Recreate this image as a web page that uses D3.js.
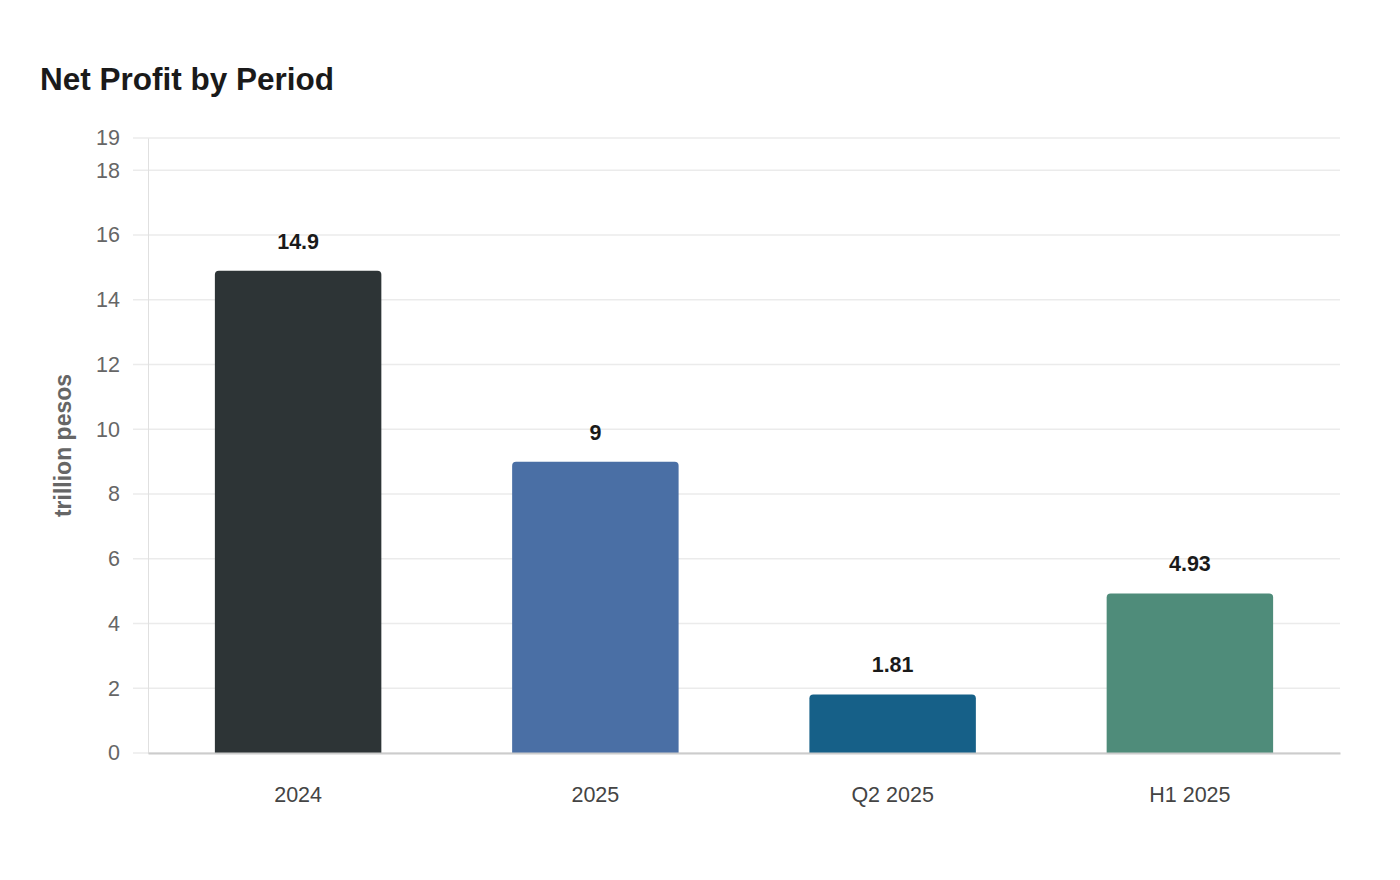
<!DOCTYPE html>
<html>
<head>
<meta charset="utf-8">
<script src="https://cdn.jsdelivr.net/npm/d3@7"></script>
<style>
  body { margin: 0; background: #fff; font-family: "Liberation Sans", Arial, sans-serif; }
</style>
</head>
<body>
<div id="chart"></div>
<script>
var periods = ["2024", "2025", "Q2 2025", "H1 2025"];
var profits = [14.9, 9, 1.81, 4.93];
var barColors = ["#2d3436", "#4a6fa5", "#166088", "#4f8c7a"];
var yTicks = [0, 2, 4, 6, 8, 10, 12, 14, 16, 18, 19];

var width = 1400, height = 880;
var margin = { top: 138, right: 60, bottom: 127, left: 148 };
var w = width - margin.left - margin.right,
    h = height - margin.top - margin.bottom;

var svg = d3.select("#chart").append("svg")
    .attr("width", width)
    .attr("height", height);

svg.append("text")
    .attr("x", 40)
    .attr("y", 90)
    .attr("font-size", 31.5)
    .attr("font-weight", "bold")
    .attr("fill", "#1a1a1a")
    .text("Net Profit by Period");

var g = svg.append("g").attr("transform", "translate(" + margin.left + "," + margin.top + ")");

var x = d3.scaleBand().domain(periods).range([0, w]).paddingInner(0.44).paddingOuter(0.225);
var y = d3.scaleLinear().domain([0, 19]).range([h, 0]);

// gridlines
g.selectAll(".grid").data(yTicks).enter().append("line")
    .attr("x1", -15).attr("x2", w)
    .attr("y1", function(d) { return y(d); })
    .attr("y2", function(d) { return y(d); })
    .attr("stroke", "#ebebeb")
    .attr("stroke-width", 1.5);

// y axis
var yAxis = g.append("g").call(d3.axisLeft(y).tickValues(yTicks).tickSize(0).tickPadding(28));
yAxis.select(".domain").attr("stroke", "#e0e0e0");
yAxis.selectAll("text").attr("font-size", 21.5).attr("fill", "#666")
    .attr("font-family", "Liberation Sans, Arial, sans-serif");

svg.append("text")
    .attr("transform", "translate(71," + (margin.top + y(9.5)) + ") rotate(-90)")
    .attr("text-anchor", "middle")
    .attr("font-size", 23)
    .attr("font-weight", "bold")
    .attr("fill", "#666")
    .text("trillion pesos");

// bars
function topRounded(x0, y0, bw, bh, r) {
  return "M" + x0 + "," + (y0 + bh) +
    "V" + (y0 + r) +
    "Q" + x0 + "," + y0 + " " + (x0 + r) + "," + y0 +
    "H" + (x0 + bw - r) +
    "Q" + (x0 + bw) + "," + y0 + " " + (x0 + bw) + "," + (y0 + r) +
    "V" + (y0 + bh) + "Z";
}

g.selectAll(".bar").data(periods).enter().append("path")
    .attr("d", function(d, i) {
      return topRounded(x(d), y(profits[i]), x.bandwidth(), h - y(profits[i]), 4);
    })
    .attr("fill", function(d, i) { return barColors[i]; });

// x axis
var xAxis = g.append("g").attr("transform", "translate(0," + h + ")")
    .call(d3.axisBottom(x).tickSize(0).tickPadding(34));
xAxis.select(".domain").attr("stroke", "#cccccc").attr("stroke-width", 2);
xAxis.selectAll("text").attr("font-size", 21.5).attr("fill", "#444")
    .attr("font-family", "Liberation Sans, Arial, sans-serif");

// value labels
g.selectAll(".val").data(periods).enter().append("text")
    .attr("x", function(d) { return x(d) + x.bandwidth() / 2; })
    .attr("y", function(d, i) { return y(profits[i]) - 22; })
    .attr("text-anchor", "middle")
    .attr("font-size", 21.5)
    .attr("font-weight", "bold")
    .attr("fill", "#1a1a1a")
    .text(function(d, i) { return profits[i]; });
</script>
</body>
</html>
